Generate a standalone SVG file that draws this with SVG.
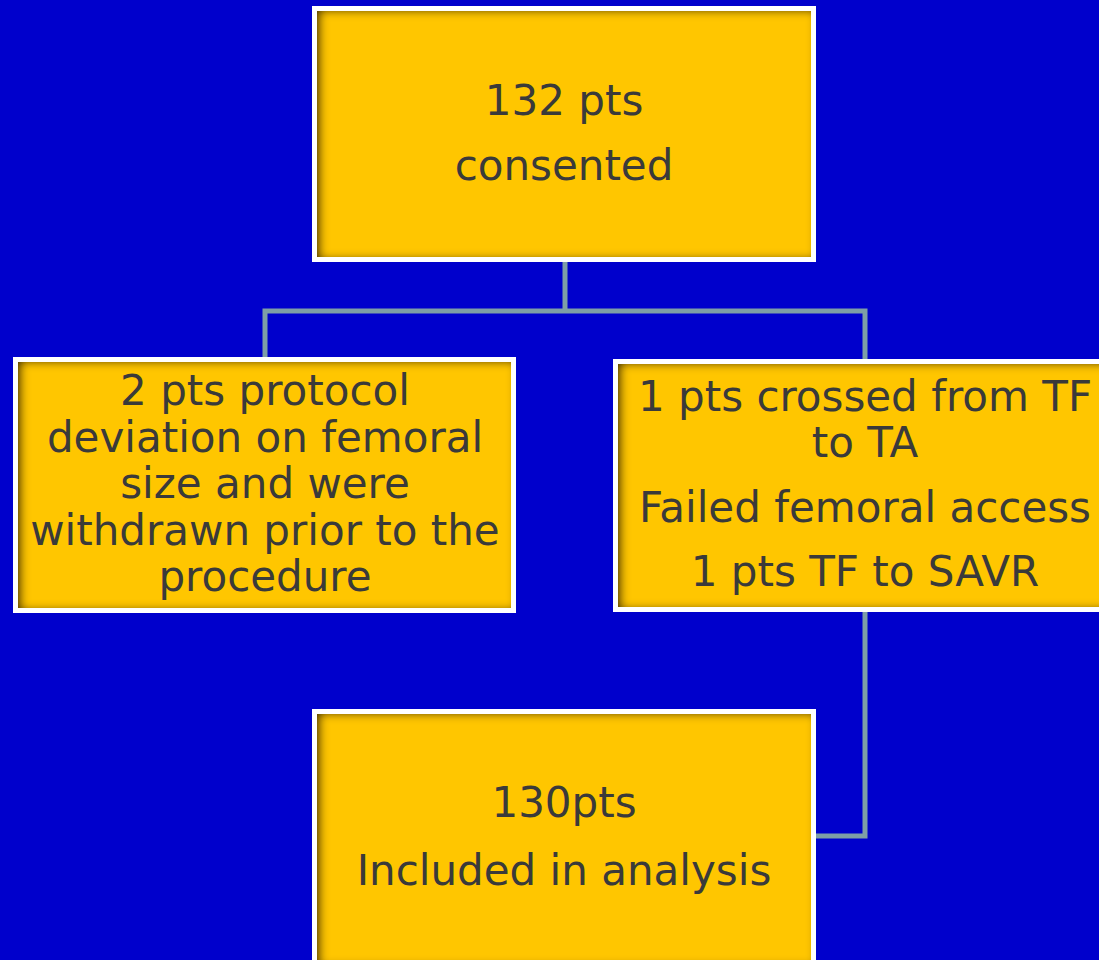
<svg xmlns="http://www.w3.org/2000/svg" width="1099" height="960" viewBox="0 0 1099 960">
<defs>
<filter id="inset" x="-5%" y="-5%" width="110%" height="110%">
<feFlood flood-color="#3d2c00" flood-opacity="1" result="f"/>
<feComposite in="f" in2="SourceAlpha" operator="out" result="o"/>
<feGaussianBlur in="o" stdDeviation="4" result="b"/>
<feOffset in="b" dx="4" dy="1" result="off"/>
<feComposite in="off" in2="SourceAlpha" operator="in" result="sh"/>
<feMerge><feMergeNode in="SourceGraphic"/><feMergeNode in="sh"/></feMerge>
</filter>
<style>
.frame{fill:#ffffff}
.fill{fill:#ffc600;filter:url(#inset)}
.t{font-family:"DejaVu Sans",Verdana,sans-serif;font-size:42px;fill:#3a3a3a;text-anchor:middle}
.c{fill:none;stroke:#7e9ea6;stroke-width:5}
</style>
</defs>
<rect width="1099" height="960" fill="#0000cc"/>
<g id="connectors">
<path class="c" d="M565 262 V311 M265 357 V311 H865 V360 M865 612 V836 H816"/>
</g>
<g id="n1">
<rect class="frame" x="312" y="6" width="504" height="256"/>
<rect class="fill" x="317" y="11" width="494" height="246"/>
<text class="t" x="564" y="115">132 pts</text>
<text class="t" x="564" y="180">consented</text>
</g>
<g id="n2">
<rect class="frame" x="13" y="357" width="503" height="256"/>
<rect class="fill" x="18" y="362" width="493" height="246"/>
<text class="t" x="265" y="405">2 pts protocol</text>
<text class="t" x="265" y="452">deviation on femoral</text>
<text class="t" x="265" y="498">size and were</text>
<text class="t" x="265" y="545">withdrawn prior to the</text>
<text class="t" x="265" y="591">procedure</text>
</g>
<g id="n3">
<rect class="frame" x="613" y="359" width="504" height="253"/>
<rect class="fill" x="618" y="364" width="494" height="243"/>
<text class="t" x="865" y="411">1 pts crossed from TF</text>
<text class="t" x="865" y="457">to TA</text>
<text class="t" x="865" y="522">Failed femoral access</text>
<text class="t" x="865" y="586">1 pts TF to SAVR</text>
</g>
<g id="n4">
<rect class="frame" x="312" y="709" width="504" height="260"/>
<rect class="fill" x="317" y="714" width="494" height="250"/>
<text class="t" x="564" y="817">130pts</text>
<text class="t" x="564" y="885">Included in analysis</text>
</g>
</svg>
